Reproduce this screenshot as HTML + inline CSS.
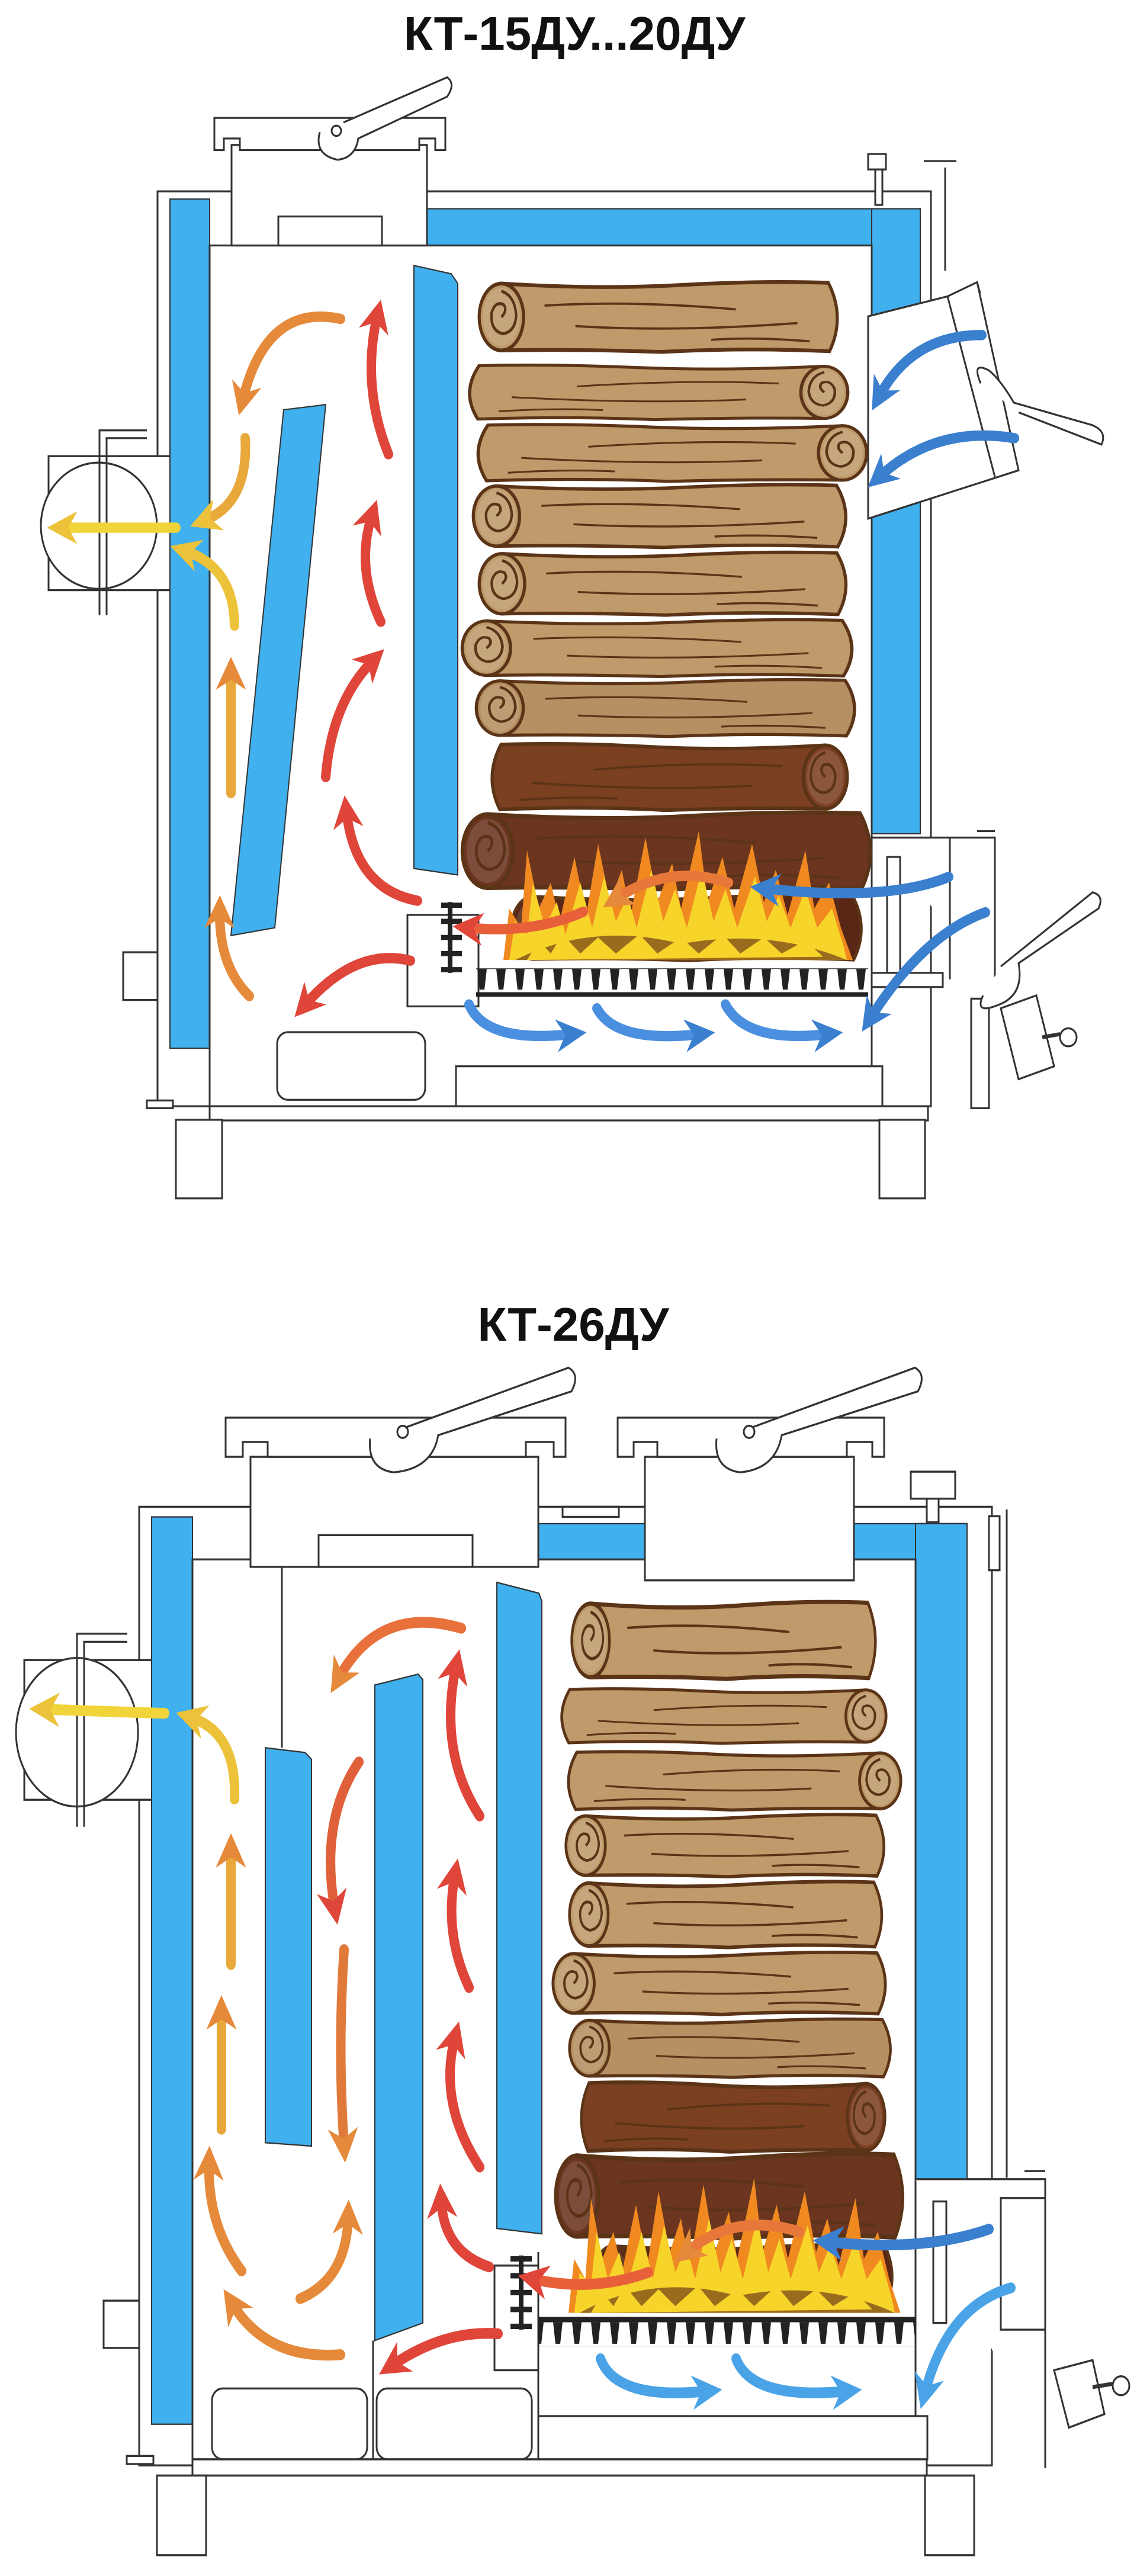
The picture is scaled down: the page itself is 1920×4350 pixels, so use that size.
<!DOCTYPE html>
<html><head><meta charset="utf-8"><style>
html,body{margin:0;padding:0;background:#fff;}
svg{display:block}
</style></head><body>
<svg width="1920" height="4350" viewBox="0 0 1920 4350" xmlns="http://www.w3.org/2000/svg">
<defs>
<symbol id="log" viewBox="0 0 600 100" preserveAspectRatio="none">
<path d="M40,6 Q200,14 330,8 Q460,2 570,5 Q598,50 572,95 Q430,90 300,96 Q160,92 40,94 Q2,50 40,6Z" fill="currentColor" stroke="#5b3417" stroke-width="5"/>
<path d="M110,35 Q250,28 420,40 M160,62 Q320,70 520,58 M380,80 Q450,76 540,82" fill="none" stroke="#5b3417" stroke-width="3"/>
<ellipse cx="40" cy="50" rx="36" ry="44" fill="currentColor" stroke="#5b3417" stroke-width="5"/>
<ellipse cx="40" cy="50" rx="30" ry="38" fill="#fff" opacity="0.12"/>
<path d="M40,50 Q50,42 44,34 Q30,28 24,45 Q22,68 42,72 Q62,70 64,48 Q62,22 40,16" fill="none" stroke="#5b3417" stroke-width="4"/>
</symbol>
<pattern id="grate" x="0" y="0" width="32" height="44" patternUnits="userSpaceOnUse">
<rect x="0" y="0" width="32" height="8" fill="#222"/>
<path d="M6,8 L22,8 L18,40 L10,40Z" fill="#222"/>
</pattern>
<marker id="mr" viewBox="0 0 10 10" refX="5" refY="5" markerWidth="3.2" markerHeight="3.2" orient="auto"><path d="M0,0 L10,5 L0,10 L3,5Z" fill="#e0453a"/></marker>
<marker id="mo" viewBox="0 0 10 10" refX="5" refY="5" markerWidth="3.2" markerHeight="3.2" orient="auto"><path d="M0,0 L10,5 L0,10 L3,5Z" fill="#e58a3a"/></marker>
<marker id="my" viewBox="0 0 10 10" refX="5" refY="5" markerWidth="3.2" markerHeight="3.2" orient="auto"><path d="M0,0 L10,5 L0,10 L3,5Z" fill="#ecc23a"/></marker>
<marker id="mb" viewBox="0 0 10 10" refX="5" refY="5" markerWidth="3.2" markerHeight="3.2" orient="auto"><path d="M0,0 L10,5 L0,10 L3,5Z" fill="#3b7fcf"/></marker>
<marker id="ml" viewBox="0 0 10 10" refX="5" refY="5" markerWidth="3.2" markerHeight="3.2" orient="auto"><path d="M0,0 L10,5 L0,10 L3,5Z" fill="#4aa3e6"/></marker>
<g id="flames">
<path d="M0,200 L10,120 L30,150 L40,30 L60,120 L80,80 L95,140 L120,40 L140,130 L160,20 L180,110 L200,60 L215,130 L240,10 L260,110 L285,50 L300,120 L330,0 L345,110 L370,40 L390,120 L420,20 L440,110 L460,60 L480,130 L510,30 L525,120 L550,80 L570,150 L590,200Z" fill="#f08a20"/>
<path d="M10,200 L20,140 L40,160 L50,80 L70,150 L90,110 L105,160 L130,80 L150,150 L170,70 L190,140 L210,100 L225,150 L250,60 L270,140 L290,90 L310,150 L335,60 L355,140 L375,90 L395,150 L425,70 L445,140 L465,100 L485,150 L510,90 L530,150 L555,120 L575,180 L580,200Z" fill="#f7d42a"/>
<path d="M20,200 Q150,140 300,175 Q450,150 580,200Z" fill="#5a2615" opacity="0.6"/>
<path d="M40,200 L60,170 L80,190 L100,160 L130,190 L160,165 L190,190 L230,160 L260,190 L300,165 L330,190 L370,160 L400,190 L440,165 L470,190 L510,170 L540,195Z" fill="#f7d42a"/>
</g>
</defs>

<g font-family="Liberation Sans, sans-serif" font-weight="bold" fill="#111" text-anchor="middle">
<text x="970" y="84" font-size="80">КТ-15ДУ...20ДУ</text>
<text x="968" y="2264" font-size="80">КТ-26ДУ</text>
</g>

<!-- ===================== TOP DIAGRAM ===================== -->
<g transform="scale(1,1.088)">
<g stroke="#333" stroke-width="3" fill="none">
<rect x="266" y="297" width="1306" height="1420" fill="#fff"/>
<rect x="82" y="708" width="272" height="208" fill="#fff"/>
<circle cx="167" cy="816" r="98" fill="#fff"/>
<path d="M168,955 L168,668 L248,668 M180,955 L180,680 L248,680"/>
<rect x="208" y="1478" width="58" height="74" fill="#fff"/>
<path d="M1572,297 L1572,1290 M1596,260 L1596,420 M1560,250 L1615,250"/>
<rect x="1466" y="239" width="30" height="24" fill="#fff"/>
<rect x="1478" y="263" width="12" height="55" fill="#fff"/>
</g>
<rect x="287" y="309" width="67" height="1318" fill="#40b0ee" stroke="#333" stroke-width="2"/>
<rect x="721" y="324" width="833" height="57" fill="#40b0ee" stroke="#333" stroke-width="2"/>
<rect x="1472" y="324" width="82" height="970" fill="#40b0ee" stroke="#333" stroke-width="2"/>
<rect x="354" y="381" width="1118" height="1336" fill="#fff" stroke="#333" stroke-width="3"/>
<g stroke="#333" stroke-width="3" fill="#fff">
<rect x="391" y="225" width="330" height="156"/>
<rect x="470" y="336" width="175" height="45"/>
<path d="M362,183 L752,183 L752,233 L735,233 L735,215 L708,215 L708,233 L405,233 L405,215 L378,215 L378,233 L362,233Z"/>
<path d="M540,205 Q530,240 570,248 Q600,245 605,215 L755,150 Q770,130 755,120 L580,190" />
<circle cx="568" cy="203" r="8"/>
<rect x="468" y="1602" width="250" height="105" rx="18"/>
<rect x="770" y="1655" width="720" height="62"/>
<rect x="354" y="1717" width="1213" height="22"/>
<rect x="297" y="1738" width="78" height="122"/>
<rect x="1485" y="1738" width="77" height="122"/>
<rect x="248" y="1708" width="44" height="12"/>
<rect x="688" y="1420" width="120" height="142"/>
<path d="M1472,1300 L1680,1300 L1680,1520 M1604,1300 L1604,1520 M1650,1290 L1680,1290"/>
<rect x="1498" y="1330" width="22" height="180"/>
<rect x="1472" y="1510" width="120" height="22"/>
<path d="M1640,1550 L1670,1550 L1670,1720 L1640,1720Z"/>
<path d="M1690,1565 L1750,1545 L1780,1655 L1720,1675Z"/>
<path d="M1760,1610 L1790,1605" stroke-width="6"/>
<circle cx="1804" cy="1610" r="14"/>
<path d="M1660,1545 Q1645,1575 1685,1560 Q1730,1545 1720,1495 L1855,1410 Q1865,1390 1845,1385 L1690,1500"/>
<path d="M1466,491 L1600,460 L1650,438 L1720,730 L1466,805Z"/>
<path d="M1600,460 L1680,740 M1650,438 L1655,455"/>
<path d="M1656,595 Q1640,560 1670,575 Q1690,590 1712,625 L1845,660 Q1870,670 1860,690 L1720,640"/>
</g>
<path d="M699,412 L762,425 L773,440 L773,1358 L699,1348Z" fill="#40b0ee" stroke="#333" stroke-width="2"/>
<path d="M479,636 L550,628 L464,1440 L390,1452Z" fill="#40b0ee" stroke="#333" stroke-width="2"/>
<g>
<use href="#log" x="805" y="433" width="625" height="118" style="color:#bf9b6b"/>
<use href="#log" x="776" y="563" width="660" height="92" transform="matrix(-1,0,0,1,2212,0)" style="color:#bf9b6b"/>
<use href="#log" x="790" y="655" width="678" height="96" transform="matrix(-1,0,0,1,2258,0)" style="color:#bf9b6b"/>
<use href="#log" x="795" y="748" width="650" height="106" style="color:#bf9b6b"/>
<use href="#log" x="805" y="853" width="640" height="106" style="color:#bf9b6b"/>
<use href="#log" x="776" y="958" width="680" height="96" style="color:#bf9b6b"/>
<use href="#log" x="800" y="1051" width="660" height="96" style="color:#b59062"/>
<use href="#log" x="815" y="1150" width="620" height="112" transform="matrix(-1,0,0,1,2250,0)" style="color:#7b3f22"/>
<use href="#log" x="776" y="1256" width="712" height="130" style="color:#6b3520"/>
<use href="#log" x="860" y="1385" width="610" height="110" style="color:#5a2615"/>
</g>
<use href="#flames" transform="translate(850,1290)"/>
<rect x="804" y="1503" width="662" height="44" fill="url(#grate)"/>
<path d="M745,1405 L780,1405 M745,1430 L780,1430 M745,1455 L780,1455 M745,1480 L780,1480 M745,1505 L780,1505 M760,1400 L760,1510" stroke="#222" stroke-width="8"/>
<g fill="none" stroke-width="16" stroke-linecap="round">
<path d="M656,705 Q610,600 637,490" stroke="#e0453a" marker-end="url(#mr)"/>
<path d="M643,965 Q600,880 628,800" stroke="#e0453a" marker-end="url(#mr)"/>
<path d="M550,1206 Q560,1090 630,1025" stroke="#e0453a" marker-end="url(#mr)"/>
<path d="M705,1398 Q600,1380 585,1260" stroke="#e0453a" marker-end="url(#mr)"/>
<path d="M693,1491 Q600,1470 515,1560" stroke="#e0453a" marker-end="url(#mr)"/>
<path d="M575,495 Q450,470 410,620" stroke="#e58a3a" marker-end="url(#mo)"/>
<path d="M414,680 Q420,780 345,808" stroke="#e8a83a" marker-end="url(#my)"/>
<path d="M396,971 Q395,880 312,855" stroke="#ecc23a" marker-end="url(#my)"/>
<path d="M390,1231 L390,1045" stroke="#e8a83a" marker-end="url(#mo)"/>
<path d="M421,1546 Q370,1500 371,1415" stroke="#e58a3a" marker-end="url(#mo)"/>
<path d="M297,819 L105,819" stroke="#f0d43a" marker-end="url(#my)"/>
<path d="M1658,520 Q1540,520 1485,615" stroke="#3b7fcf" marker-end="url(#mb)"/>
<path d="M1713,680 Q1580,660 1485,740" stroke="#3b7fcf" marker-end="url(#mb)"/>
<path d="M1602,1361 Q1500,1400 1292,1379" stroke="#3b7fcf" marker-end="url(#mb)"/>
<path d="M1664,1416 Q1560,1450 1470,1580" stroke="#3b7fcf" marker-end="url(#mb)"/>
<path d="M792,1559 Q820,1620 965,1605" stroke="#4a8fe0" marker-end="url(#mb)"/>
<path d="M1008,1565 Q1040,1620 1182,1605" stroke="#4a8fe0" marker-end="url(#mb)"/>
<path d="M1225,1559 Q1260,1620 1398,1605" stroke="#4a8fe0" marker-end="url(#mb)"/>
<path d="M1230,1370 Q1130,1340 1040,1395" stroke="#e8783a" marker-end="url(#mo)"/>
<path d="M985,1415 Q900,1450 790,1440" stroke="#e8603a" marker-end="url(#mr)"/>
</g>
</g>

<!-- ===================== BOTTOM DIAGRAM ===================== -->
<g transform="translate(0,2150) scale(1,1.14) translate(0,-2150)">
<g stroke="#333" stroke-width="3" fill="none">
<rect x="235" y="2496" width="1440" height="1420" fill="#fff"/>
<rect x="41" y="2723" width="284" height="207" fill="#fff"/>
<ellipse cx="130" cy="2830" rx="103" ry="110" fill="#fff"/>
<path d="M130,2970 L130,2684 L215,2684 M142,2970 L142,2696 L215,2696"/>
<rect x="175" y="3672" width="60" height="70" fill="#fff"/>
<path d="M1675,2496 L1675,3490 M1700,2500 L1700,3490"/>
<rect x="1538" y="2444" width="75" height="40" fill="#fff"/>
<rect x="1565" y="2484" width="20" height="35" fill="#fff"/>
<rect x="1670" y="2510" width="18" height="80" fill="#fff"/>
<rect x="950" y="2496" width="95" height="15" fill="#fff"/>
</g>
<rect x="256" y="2511" width="69" height="1344" fill="#40b0ee" stroke="#333" stroke-width="2"/>
<rect x="909" y="2521" width="724" height="64" fill="#40b0ee" stroke="#333" stroke-width="2"/>
<rect x="1546" y="2521" width="87" height="972" fill="#40b0ee" stroke="#333" stroke-width="2"/>
<rect x="325" y="2574" width="1221" height="1333" fill="#fff" stroke="#333" stroke-width="3"/>
<g stroke="#333" stroke-width="3" fill="#fff">
<rect x="423" y="2422" width="486" height="163"/>
<rect x="1089" y="2422" width="353" height="183"/>
<rect x="538" y="2538" width="260" height="47"/>
<path d="M381,2364 L955,2364 L955,2422 L935,2422 L935,2400 L888,2400 L888,2422 L452,2422 L452,2400 L410,2400 L410,2422 L381,2422Z"/>
<path d="M1043,2364 L1493,2364 L1493,2422 L1473,2422 L1473,2400 L1430,2400 L1430,2422 L1110,2422 L1110,2400 L1070,2400 L1070,2422 L1043,2422Z"/>
<path d="M625,2395 Q620,2440 665,2445 Q730,2440 740,2390 L965,2325 Q980,2300 960,2290 L680,2380"/>
<circle cx="680" cy="2385" r="9"/>
<path d="M1210,2395 Q1205,2440 1250,2445 Q1310,2440 1320,2390 L1550,2325 Q1565,2300 1545,2290 L1265,2380"/>
<circle cx="1265" cy="2385" r="9"/>
<path d="M476,2585 L476,2853 M630,3731 L630,3907 M909,3600 L909,3907"/>
<rect x="358" y="3802" width="262" height="105" rx="18"/>
<rect x="636" y="3802" width="262" height="105" rx="18"/>
<rect x="909" y="3843" width="657" height="64"/>
<rect x="325" y="3907" width="1240" height="24"/>
<rect x="265" y="3931" width="83" height="118"/>
<rect x="1562" y="3931" width="83" height="118"/>
<rect x="214" y="3902" width="45" height="12"/>
<rect x="835" y="3620" width="74" height="155"/>
<path d="M1546,3492 L1765,3492 L1765,3920 M1690,3520 L1765,3520 L1765,3715 L1690,3715Z M1730,3480 L1765,3480"/>
<rect x="1576" y="3525" width="22" height="180"/>
<path d="M1780,3775 L1845,3760 L1865,3840 L1805,3860Z"/>
<path d="M1845,3800 L1880,3795" stroke-width="6"/>
<circle cx="1893" cy="3798" r="14"/>
</g>
<path d="M448,2853 L515,2860 L526,2870 L526,3443 L448,3438Z" fill="#40b0ee" stroke="#333" stroke-width="2"/>
<path d="M633,2760 L706,2744 L714,2752 L714,3705 L633,3731Z" fill="#40b0ee" stroke="#333" stroke-width="2"/>
<path d="M839,2608 L910,2624 L915,2636 L915,3573 L839,3565Z" fill="#40b0ee" stroke="#333" stroke-width="2"/>
<g>
<use href="#log" x="962" y="2632" width="530" height="124" style="color:#bf9b6b"/>
<use href="#log" x="934" y="2762" width="566" height="88" transform="matrix(-1,0,0,1,2434,0)" style="color:#bf9b6b"/>
<use href="#log" x="945" y="2855" width="580" height="94" transform="matrix(-1,0,0,1,2470,0)" style="color:#bf9b6b"/>
<use href="#log" x="952" y="2948" width="555" height="100" style="color:#bf9b6b"/>
<use href="#log" x="958" y="3047" width="545" height="106" style="color:#bf9b6b"/>
<use href="#log" x="930" y="3152" width="580" height="100" style="color:#bf9b6b"/>
<use href="#log" x="958" y="3251" width="560" height="94" style="color:#b59062"/>
<use href="#log" x="968" y="3344" width="530" height="112" transform="matrix(-1,0,0,1,2466,0)" style="color:#7b3f22"/>
<use href="#log" x="934" y="3449" width="606" height="136" style="color:#6b3520"/>
<use href="#log" x="1000" y="3585" width="520" height="100" style="color:#5a2615"/>
</g>
<use href="#flames" transform="translate(960,3490) scale(0.95,1)"/>
<rect x="909" y="3696" width="637" height="44" fill="url(#grate)"/>
<path d="M862,3610 L898,3610 M862,3635 L898,3635 M862,3660 L898,3660 M862,3685 L898,3685 M862,3710 L898,3710 M880,3605 L880,3715" stroke="#222" stroke-width="8"/>
<g fill="none" stroke-width="16" stroke-linecap="round">
<path d="M278,2802 L75,2796" stroke="#f0d43a" marker-end="url(#my)"/>
<path d="M396,2929 Q400,2830 322,2808" stroke="#ecc23a" marker-end="url(#my)"/>
<path d="M390,3174 L390,3005" stroke="#e8a83a" marker-end="url(#mo)"/>
<path d="M374,3418 L374,3245" stroke="#e8a83a" marker-end="url(#mo)"/>
<path d="M408,3628 Q350,3560 353,3468" stroke="#e58a3a" marker-end="url(#mo)"/>
<path d="M575,3752 Q450,3760 392,3676" stroke="#e58a3a" marker-end="url(#mo)"/>
<path d="M507,3669 Q585,3640 588,3548" stroke="#e58a3a" marker-end="url(#mo)"/>
<path d="M581,3152 Q570,3300 581,3442" stroke="#e07a3a" marker-end="url(#mo)"/>
<path d="M779,2676 Q640,2640 572,2750" stroke="#e8703a" marker-end="url(#mo)"/>
<path d="M606,2874 Q540,2960 565,3090" stroke="#e0603a" marker-end="url(#mr)"/>
<path d="M810,2954 Q740,2860 770,2732" stroke="#e0453a" marker-end="url(#mr)"/>
<path d="M792,3208 Q750,3130 768,3042" stroke="#e0453a" marker-end="url(#mr)"/>
<path d="M810,3474 Q740,3380 768,3283" stroke="#e0453a" marker-end="url(#mr)"/>
<path d="M826,3622 Q750,3600 745,3524" stroke="#e0453a" marker-end="url(#mr)"/>
<path d="M841,3721 Q750,3715 662,3768" stroke="#e0453a" marker-end="url(#mr)"/>
<path d="M1670,3566 Q1560,3600 1398,3585" stroke="#3b7fcf" marker-end="url(#mb)"/>
<path d="M1707,3653 Q1600,3680 1562,3808" stroke="#4aa3e6" marker-end="url(#ml)"/>
<path d="M1014,3758 Q1040,3820 1194,3806" stroke="#4aa3e6" marker-end="url(#ml)"/>
<path d="M1243,3758 Q1270,3820 1430,3806" stroke="#4aa3e6" marker-end="url(#ml)"/>
<path d="M1350,3570 Q1240,3540 1160,3600" stroke="#e8783a" marker-end="url(#mo)"/>
<path d="M1095,3630 Q1000,3660 900,3640" stroke="#e8603a" marker-end="url(#mr)"/>
</g>
</g>
</svg>
</body></html>
